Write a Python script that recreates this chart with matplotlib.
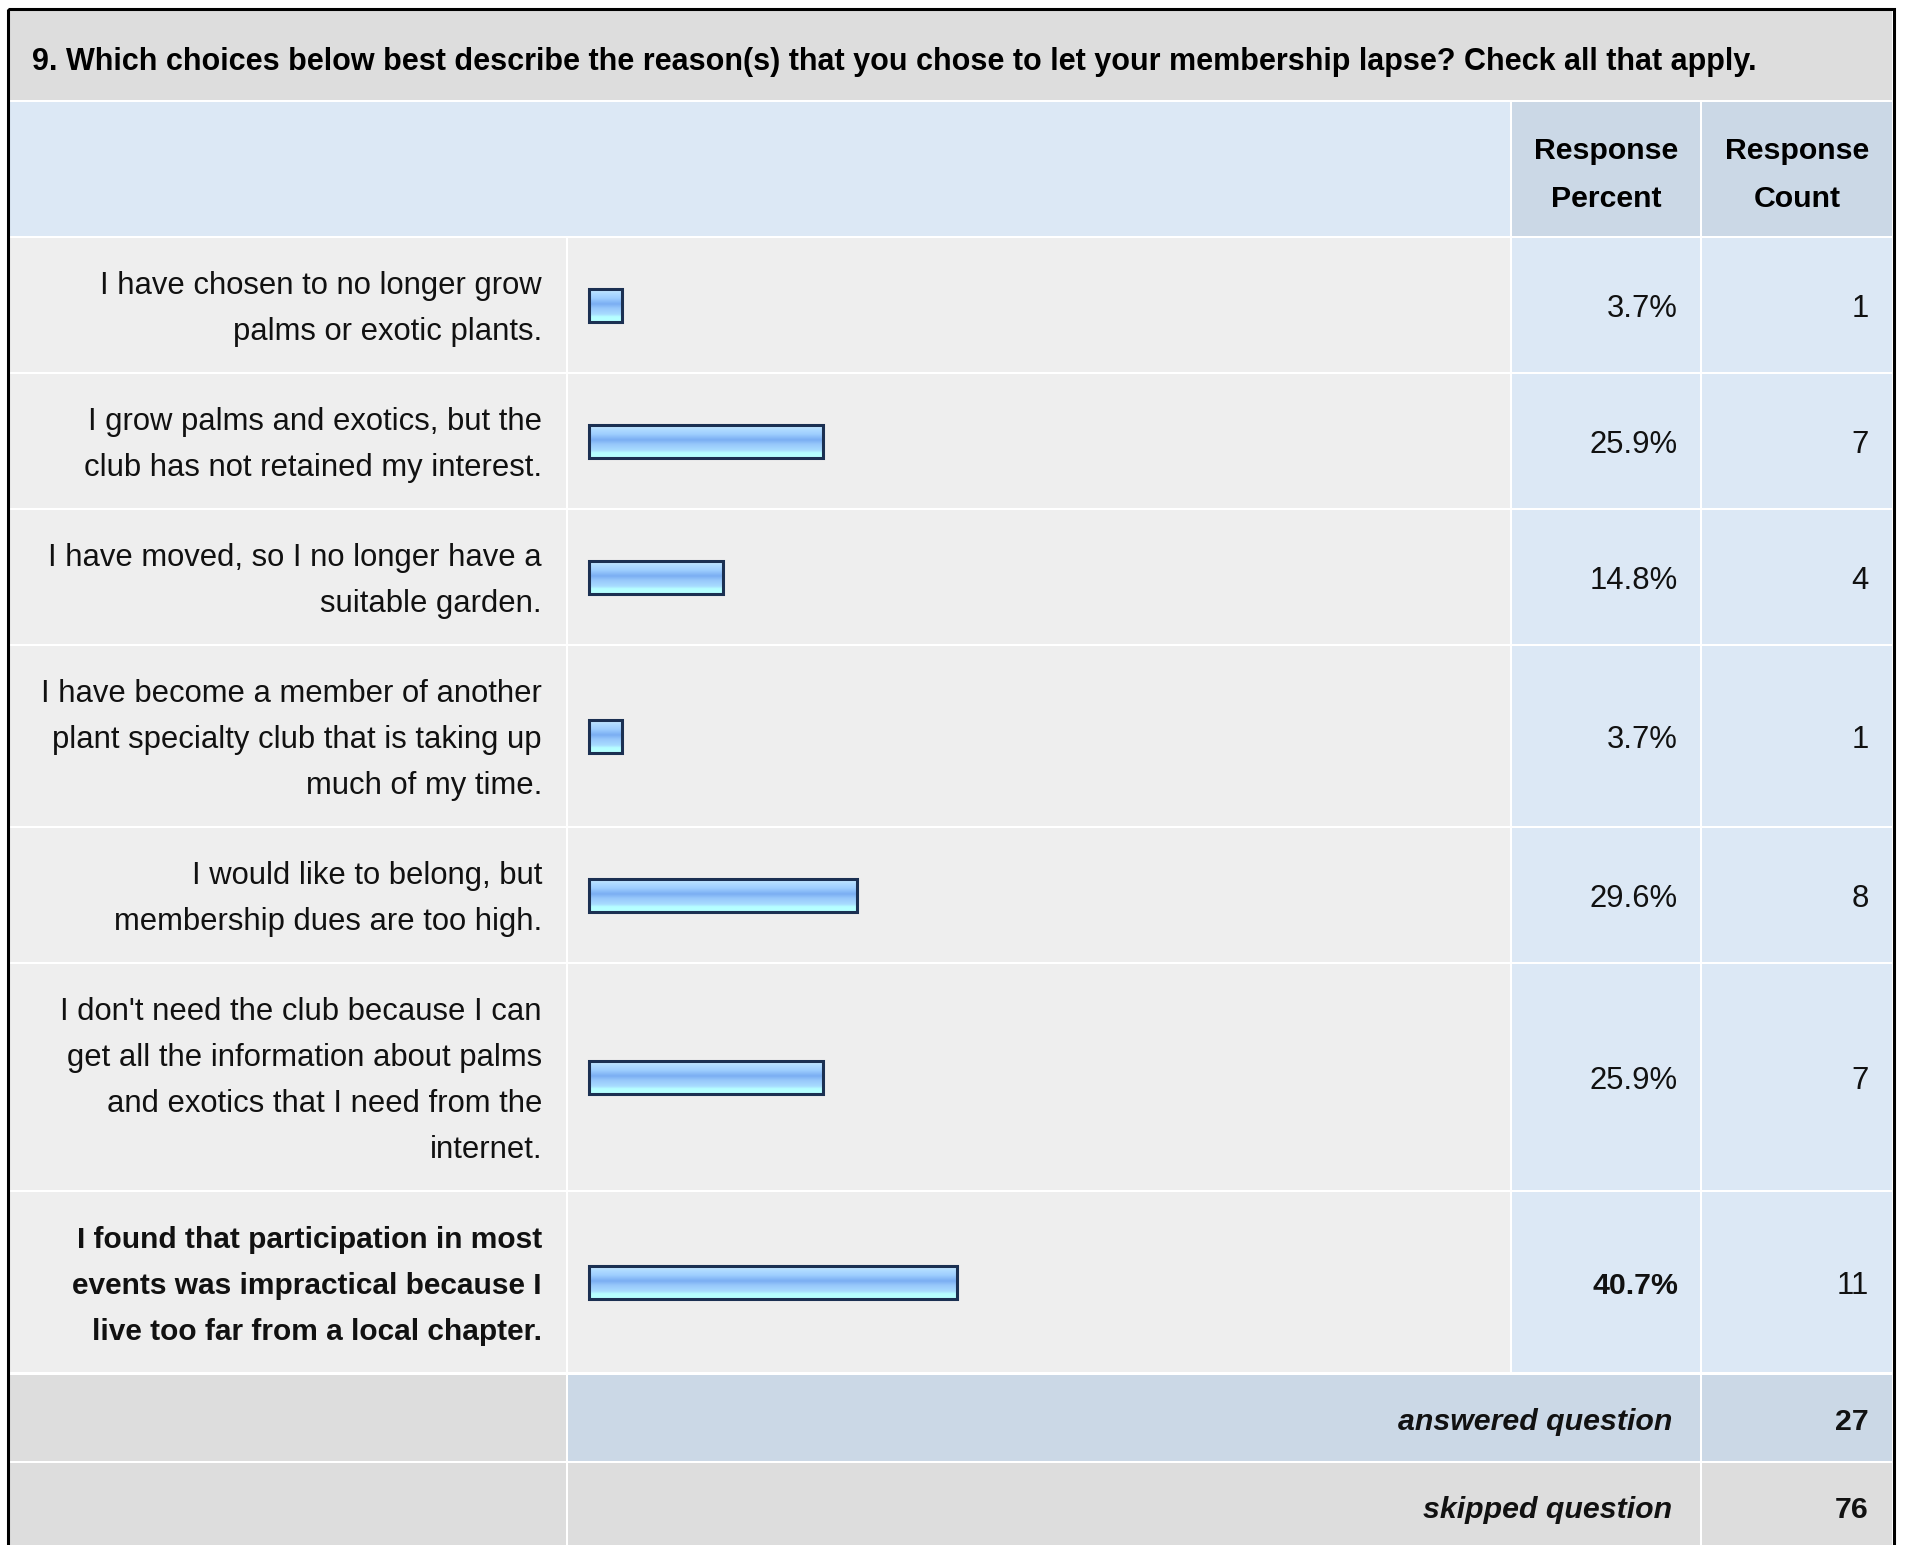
import numpy as np
import matplotlib.pyplot as plt
from matplotlib.patches import Rectangle
from matplotlib.colors import LinearSegmentedColormap

plt.rcParams['font.family'] = ['Liberation Sans', 'DejaVu Sans']

title = ("9. Which choices below best describe the reason(s) that you chose to "
         "let your membership lapse? Check all that apply.")
header_pct = ["Response", "Percent"]
header_cnt = ["Response", "Count"]

labels = [
    ["I have chosen to no longer grow", "palms or exotic plants."],
    ["I grow palms and exotics, but the", "club has not retained my interest."],
    ["I have moved, so I no longer have a", "suitable garden."],
    ["I have become a member of another", "plant specialty club that is taking up",
     "much of my time."],
    ["I would like to belong, but", "membership dues are too high."],
    ["I don't need the club because I can", "get all the information about palms",
     "and exotics that I need from the", "internet."],
    ["I found that participation in most", "events was impractical because I",
     "live too far from a local chapter."],
]
percents = [3.7, 25.9, 14.8, 3.7, 29.6, 25.9, 40.7]
counts = [1, 7, 4, 1, 8, 7, 11]
highlight = [False, False, False, False, False, False, True]
summary_labels = ["answered question", "skipped question"]
summary_values = [27, 76]

# layout in pixels
W, H = 1907, 1545
LINE_H = 46
GAP = 2
DY = 4  # small downward nudge for text
X_LEFT, X_SEP1, X_SEP2, X_SEP3, X_RIGHT = 10, 566, 1510, 1700, 1892
GRAY = '#dddddd'
ROW_BG = '#eeeeee'
LIGHT_BLUE = '#dce8f5'
MID_BLUE = '#cbd8e6'
TXT = '#111111'
FS = 22.3   # regular text
FSB = 21.8  # bold text
FS_LBL_B = 21.5  # bold row label

fig = plt.figure(figsize=(W / 100, H / 100), dpi=100)
ax = fig.add_axes([0, 0, 1, 1])
ax.set_xlim(0, W)
ax.set_ylim(H, 0)
ax.axis('off')


def cell(x0, x1, y0, y1, color):
    ax.add_patch(Rectangle((x0, y0), x1 - x0, y1 - y0, facecolor=color,
                           edgecolor='none', zorder=1))


# title band
cell(X_LEFT, X_RIGHT, 10, 100, GRAY)
ax.text(32, 58 + DY, title, fontsize=22, fontweight='bold', color='black',
        ha='left', va='center', zorder=3)

# header
cell(X_LEFT, X_SEP2, 102, 236, LIGHT_BLUE)
cell(X_SEP2 + GAP, X_SEP3, 102, 236, MID_BLUE)
cell(X_SEP3 + GAP, X_RIGHT, 102, 236, MID_BLUE)
for i, (a, b) in enumerate(zip(header_pct, header_cnt)):
    y = 147 + DY + i * 48
    ax.text((X_SEP2 + GAP + X_SEP3) / 2, y, a, fontsize=FSB, fontweight='bold',
            ha='center', va='center', color='black', zorder=3)
    ax.text((X_SEP3 + GAP + X_RIGHT) / 2, y, b, fontsize=FSB, fontweight='bold',
            ha='center', va='center', color='black', zorder=3)

# rows
y = 238
centers = []
for lab, pct, cnt, hl in zip(labels, percents, counts, highlight):
    h = LINE_H * len(lab) + 42
    cell(X_LEFT, X_SEP1, y, y + h, ROW_BG)
    cell(X_SEP1 + GAP, X_SEP2, y, y + h, ROW_BG)
    cell(X_SEP2 + GAP, X_SEP3, y, y + h, LIGHT_BLUE)
    cell(X_SEP3 + GAP, X_RIGHT, y, y + h, LIGHT_BLUE)
    yc = y + h / 2
    centers.append(yc)
    w = 'bold' if hl else 'normal'
    n = len(lab)
    for k, line in enumerate(lab):
        ax.text(542, yc + DY + (k - (n - 1) / 2) * LINE_H, line,
                fontsize=FS_LBL_B if hl else FS,
                fontweight=w, ha='right', va='center', color=TXT, zorder=3)
    ax.text(1678, yc + DY, f"{pct:.1f}%", fontsize=FSB if hl else FS,
            fontweight=w, ha='right', va='center', color=TXT, zorder=3)
    ax.text(1869, yc + DY, str(cnt), fontsize=FS, ha='right', va='center',
            color=TXT, zorder=3)
    y += h + GAP

# summary rows
sum_colors = [(GRAY, MID_BLUE, MID_BLUE), (GRAY, GRAY, GRAY)]
y += 1
for lab, val, cols in zip(summary_labels, summary_values, sum_colors):
    h = 86
    cell(X_LEFT, X_SEP1, y, y + h, cols[0])
    cell(X_SEP1 + GAP, X_SEP3, y, y + h, cols[1])
    cell(X_SEP3 + GAP, X_RIGHT, y, y + h, cols[2])
    ax.text(1672, y + h / 2 + DY, lab, fontsize=FSB, fontweight='bold',
            style='italic', ha='right', va='center', color=TXT, zorder=3)
    ax.text(1869, y + h / 2 + DY, str(val), fontsize=FSB, fontweight='bold',
            ha='right', va='center', color=TXT, zorder=3)
    y += h + GAP

# outer border
ax.add_patch(Rectangle((7.5, 8.5), 1886, 1600, facecolor='none',
                       edgecolor='black', linewidth=2.2, zorder=4))

# bar column: percent scale
PX_PER_PCT = 9.05
bar_left_px = 589
bx = fig.add_axes([(X_SEP1 + GAP) / W, 0, (X_SEP2 - X_SEP1 - GAP) / W, 1])
bx.axis('off')
bx.patch.set_alpha(0)

grad_cmap = LinearSegmentedColormap.from_list(
    'bar', [(0.0, '#d4eeff'), (0.15, '#b0dcff'), (0.3, '#9fcfff'),
            (0.48, '#7aaef2'), (0.62, '#98c8fb'), (0.8, '#a8dcff'),
            (0.88, '#b6ffff'), (1.0, '#b6ffff')])
grad = np.linspace(0, 1, 64).reshape(-1, 1)
BAR_H = 33
for yc, pct in zip(centers, percents):
    bx.imshow(grad, cmap=grad_cmap, aspect='auto', interpolation='bilinear',
              extent=(0, pct, yc + BAR_H / 2, yc - BAR_H / 2), zorder=2)
bx.barh(centers, percents, height=BAR_H, left=0, facecolor='none',
        edgecolor='#1b3052', linewidth=2.2, zorder=3)
bx.set_xlim(-(bar_left_px - X_SEP1 - GAP) / PX_PER_PCT,
            (X_SEP2 - bar_left_px) / PX_PER_PCT)
bx.set_ylim(H, 0)

fig.savefig('out.png', dpi=100, facecolor='white')
